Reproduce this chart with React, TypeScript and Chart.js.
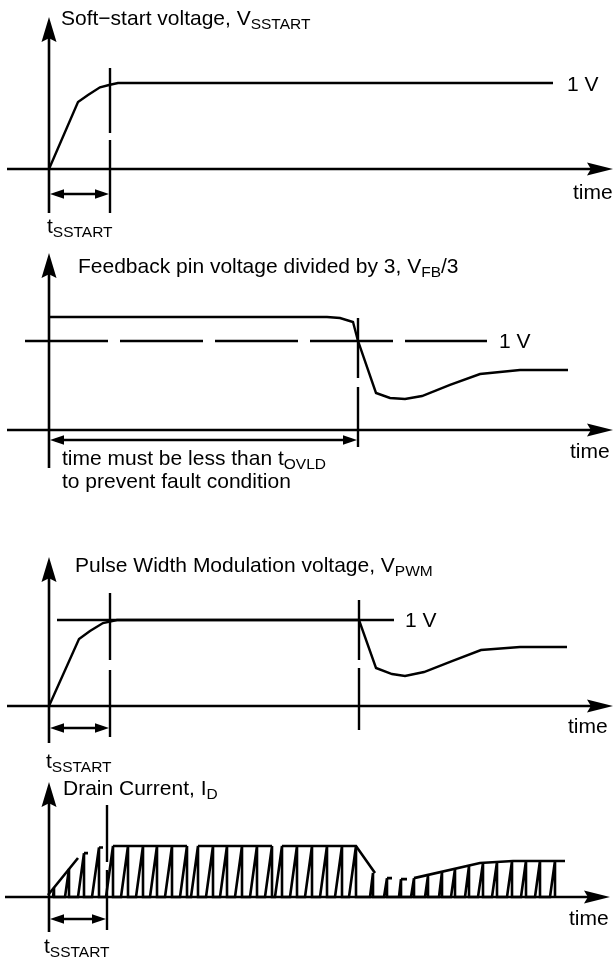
import React, { useEffect, useRef } from "react";
import { Chart, registerables } from "chart.js";
Chart.register(...registerables);

// ---------------- DATA ----------------
// Panel 1: soft-start voltage (time units, volts)
const ssTime = [0, 29, 39, 51, 61, 69, 504];
const ssVolt = [0, 0.78, 0.86, 0.95, 0.98, 1, 1];

// Panel 2: feedback pin voltage / 3
const fbTime = [0, 278, 291, 304, 309, 327, 341, 356, 373, 401, 431, 471, 519];
const fbVolt = [1.27, 1.27, 1.258, 1.213, 1.0, 0.416, 0.36, 0.348, 0.382, 0.506, 0.629, 0.674, 0.674];
const fbRefTime = [-24, 438];
const fbRefVolt = [1, 1];

// Panel 3: PWM voltage
const pwmTime = [0, 30, 41, 54, 68, 310, 327, 343, 356, 375, 403, 432, 471, 518];
const pwmVolt = [0, 0.779, 0.872, 0.965, 1, 1, 0.442, 0.372, 0.349, 0.395, 0.523, 0.651, 0.686, 0.686];
const pwmRefTime = [8, 345];
const pwmRefVolt = [1, 1];

// Panel 4: drain current pulses (ramp start, peak/turn-off time, peak level)
const pulseStart = [4, 16, 29, 43, 57, 72, 87, 101, 116, 131, 142, 157, 171, 186, 201, 216, 226, 241, 256, 271, 286, 300, 321, 335, 350, 362, 376, 390, 402, 416, 429, 443, 458, 472, 486, 501];
const pulseEnd = [5, 20, 35, 50, 64, 79, 94, 108, 123, 138, 149, 164, 178, 193, 208, 223, 233, 248, 263, 278, 293, 307, 324, 338, 352, 365, 379, 393, 406, 420, 434, 448, 463, 477, 491, 506];
const pulsePeak = [0.18, 0.55, 0.86, 0.97, 1, 1, 1, 1, 1, 1, 1, 1, 1, 1, 1, 1, 1, 1, 1, 1, 1, 1, 0.47, 0.37, 0.35, 0.37, 0.42, 0.49, 0.55, 0.61, 0.67, 0.69, 0.7, 0.71, 0.71, 0.71];
// peak envelope (null = break)
const envTime = [-1, 29, null, 35, 39, null, 50, 54, null, 64, 138, null, 149, 223, null, 233, 307, 326, null, 338, 343, null, 352, 358, null, 365, 431, 464, 516];
const envLevel = [0.04, 0.765, null, 0.86, 0.86, null, 0.97, 0.97, null, 1, 1, null, 1, 1, null, 1, 1, 0.47, null, 0.37, 0.37, null, 0.35, 0.35, null, 0.37, 0.667, 0.706, 0.706];

// ---------------- RENDERING ----------------
const FONT = '"Liberation Sans", Arial, Helvetica, sans-serif';
const MAIN = 21;
const SUB = 15.5;
const SUB_DY = 4;
const X_MIN = -49;
const X_MAX = 564;

function pts(xs: (number | null)[], ys: (number | null)[]) {
  return xs.map((x, i) => ({ x: x === null ? NaN : x, y: ys[i] }));
}

function pulsePts() {
  const out: { x: number; y: number }[] = [];
  pulseStart.forEach((s, i) => {
    out.push({ x: s, y: 0 });
    out.push({ x: pulseEnd[i], y: pulsePeak[i] });
    out.push({ x: pulseEnd[i], y: 0 });
  });
  return out;
}

const lineDs = (data: any[], extra: any = {}) => ({
  data,
  borderColor: "#000",
  borderWidth: 2.4,
  pointRadius: 0,
  fill: false,
  spanGaps: false,
  clip: false,
  tension: 0,
  ...extra,
});

type Decor = {
  yAxis: [number, number];
  xAxis: [number, number];
  markers: { t: number; segs: [number, number][] }[];
  dims: { y: number; t0: number; t1: number }[];
  texts: { t: number; y: number; parts: string[] }[];
};

type Panel = {
  top: number;
  height: number;
  base: number;
  unit: number;
  datasets: any[];
  decor: Decor;
};

const panels: Panel[] = [
  {
    top: 0,
    height: 245,
    base: 169,
    unit: 86,
    datasets: [lineDs(pts(ssTime, ssVolt))],
    decor: {
      yAxis: [213, 17],
      xAxis: [-42, 564],
      markers: [{ t: 61, segs: [[68, 133], [140, 213]] }],
      dims: [{ y: 194, t0: 0, t1: 61 }],
      texts: [
        { t: 12, y: 25, parts: ["Soft\u2212start voltage, V", "SSTART"] },
        { t: 518, y: 91, parts: ["1 V"] },
        { t: 524, y: 199, parts: ["time"] },
        { t: -2, y: 233, parts: ["t", "SSTART"] },
      ],
    },
  },
  {
    top: 245,
    height: 255,
    base: 430,
    unit: 89,
    datasets: [
      lineDs(pts(fbTime, fbVolt)),
      lineDs(pts(fbRefTime, fbRefVolt), { borderDash: [83, 12] }),
    ],
    decor: {
      yAxis: [468, 253],
      xAxis: [-42, 564],
      markers: [{ t: 309, segs: [[318, 378], [387, 447]] }],
      dims: [{ y: 440, t0: 0, t1: 309 }],
      texts: [
        { t: 29, y: 273, parts: ["Feedback pin voltage divided by 3, V", "FB", "/3"] },
        { t: 450, y: 348, parts: ["1 V"] },
        { t: 521, y: 458, parts: ["time"] },
        { t: 13, y: 465, parts: ["time must be less than t", "OVLD"] },
        { t: 13, y: 488, parts: ["to prevent fault condition"] },
      ],
    },
  },
  {
    top: 500,
    height: 278,
    base: 706,
    unit: 86,
    datasets: [lineDs(pts(pwmTime, pwmVolt)), lineDs(pts(pwmRefTime, pwmRefVolt))],
    decor: {
      yAxis: [743, 557],
      xAxis: [-42, 564],
      markers: [
        { t: 61, segs: [[593, 660], [670, 737]] },
        { t: 310, segs: [[600, 660], [668, 730]] },
      ],
      dims: [{ y: 728, t0: 0, t1: 61 }],
      texts: [
        { t: 26, y: 572, parts: ["Pulse Width Modulation voltage, V", "PWM"] },
        { t: 356, y: 627, parts: ["1 V"] },
        { t: 519, y: 733, parts: ["time"] },
        { t: -3, y: 768, parts: ["t", "SSTART"] },
      ],
    },
  },
  {
    top: 778,
    height: 185,
    base: 897,
    unit: 51,
    datasets: [
      lineDs(pulsePts(), { borderWidth: 2.6 }),
      lineDs(pts(envTime, envLevel), { borderWidth: 2.6 }),
    ],
    decor: {
      yAxis: [932, 782],
      xAxis: [-44, 561],
      markers: [{ t: 58, segs: [[805, 862], [870, 930]] }],
      dims: [{ y: 919, t0: 0, t1: 58 }],
      texts: [
        { t: 14, y: 795, parts: ["Drain Current, I", "D"] },
        { t: 520, y: 925, parts: ["time"] },
        { t: -5, y: 953, parts: ["t", "SSTART"] },
      ],
    },
  },
];

function drawArrow(ctx: CanvasRenderingContext2D, tipX: number, tipY: number, dx: number, dy: number, len: number, half: number, notch: number) {
  const px = -dy;
  const py = dx;
  const bx = tipX - dx * len;
  const by = tipY - dy * len;
  ctx.beginPath();
  ctx.moveTo(tipX, tipY);
  ctx.lineTo(bx + px * half, by + py * half);
  ctx.lineTo(tipX - dx * len * (1 - notch), tipY - dy * len * (1 - notch));
  ctx.lineTo(bx - px * half, by - py * half);
  ctx.closePath();
  ctx.fill();
}

function drawRich(ctx: CanvasRenderingContext2D, x: number, y: number, parts: string[]) {
  let cx = x;
  parts.forEach((p, i) => {
    const sub = i % 2 === 1;
    ctx.font = `${sub ? SUB : MAIN}px ${FONT}`;
    ctx.fillText(p, cx, y + (sub ? SUB_DY : 0));
    cx += ctx.measureText(p).width;
  });
}

function decorPlugin(p: Panel) {
  return {
    id: "decor",
    afterDatasetsDraw(chart: any) {
      const ctx: CanvasRenderingContext2D = chart.ctx;
      const xs = chart.scales.x;
      const ys = chart.scales.y;
      const X = (t: number) => xs.getPixelForValue(t);
      const Y = (a: number) => a - p.top;
      const d = p.decor;
      const line = (x1: number, y1: number, x2: number, y2: number) => {
        ctx.beginPath();
        ctx.moveTo(x1, y1);
        ctx.lineTo(x2, y2);
        ctx.stroke();
      };
      ctx.save();
      ctx.strokeStyle = "#000";
      ctx.fillStyle = "#000";
      ctx.lineCap = "butt";
      ctx.lineWidth = 2.6;
      const x0 = X(0);
      const y0 = ys.getPixelForValue(0);
      line(x0, Y(d.yAxis[0]), x0, Y(d.yAxis[1]) + 12);
      drawArrow(ctx, x0, Y(d.yAxis[1]), 0, -1, 25, 7.5, 0.15);
      line(X(d.xAxis[0]), y0, X(d.xAxis[1]) - 12, y0);
      drawArrow(ctx, X(d.xAxis[1]), y0, 1, 0, 26, 6.5, 0.15);
      ctx.lineWidth = 2.4;
      d.markers.forEach((m) => m.segs.forEach(([a, b]) => line(X(m.t), Y(a), X(m.t), Y(b))));
      d.dims.forEach((dm) => {
        const y = Y(dm.y);
        line(X(dm.t0) + 6, y, X(dm.t1) - 6, y);
        drawArrow(ctx, X(dm.t0) + 1, y, -1, 0, 14, 4.8, 0);
        drawArrow(ctx, X(dm.t1) - 1, y, 1, 0, 14, 4.8, 0);
      });
      ctx.textBaseline = "alphabetic";
      ctx.textAlign = "left";
      d.texts.forEach((tx) => drawRich(ctx, X(tx.t), Y(tx.y), tx.parts));
      ctx.restore();
    },
  };
}

function PanelChart({ panel }: { panel: Panel }) {
  const ref = useRef<HTMLCanvasElement>(null);
  useEffect(() => {
    const yMin = -(panel.top + panel.height - panel.base) / panel.unit;
    const yMax = (panel.base - panel.top) / panel.unit;
    const chart = new Chart(ref.current as HTMLCanvasElement, {
      type: "line",
      data: { datasets: panel.datasets },
      options: {
        animation: false,
        responsive: false,
        maintainAspectRatio: false,
        devicePixelRatio: 1,
        events: [],
        layout: { padding: 0 },
        plugins: {
          legend: { display: false },
          tooltip: { enabled: false },
          title: { display: false },
        },
        scales: {
          x: { type: "linear", min: X_MIN, max: X_MAX, display: false },
          y: { type: "linear", min: yMin, max: yMax, display: false },
        },
        elements: {
          point: { radius: 0 },
          line: { tension: 0, borderCapStyle: "butt", borderJoinStyle: "miter" },
        },
      } as any,
      plugins: [decorPlugin(panel)],
    });
    return () => chart.destroy();
  }, [panel]);
  return (
    <canvas
      ref={ref}
      width={613}
      height={panel.height}
      style={{ position: "absolute", left: 0, top: panel.top, width: 613, height: panel.height, display: "block" }}
    />
  );
}

export default function App() {
  return (
    <div style={{ position: "absolute", left: 0, top: 0, width: 613, height: 963, background: "#fff" }}>
      {panels.map((p, i) => (
        <PanelChart key={i} panel={p} />
      ))}
    </div>
  );
}
